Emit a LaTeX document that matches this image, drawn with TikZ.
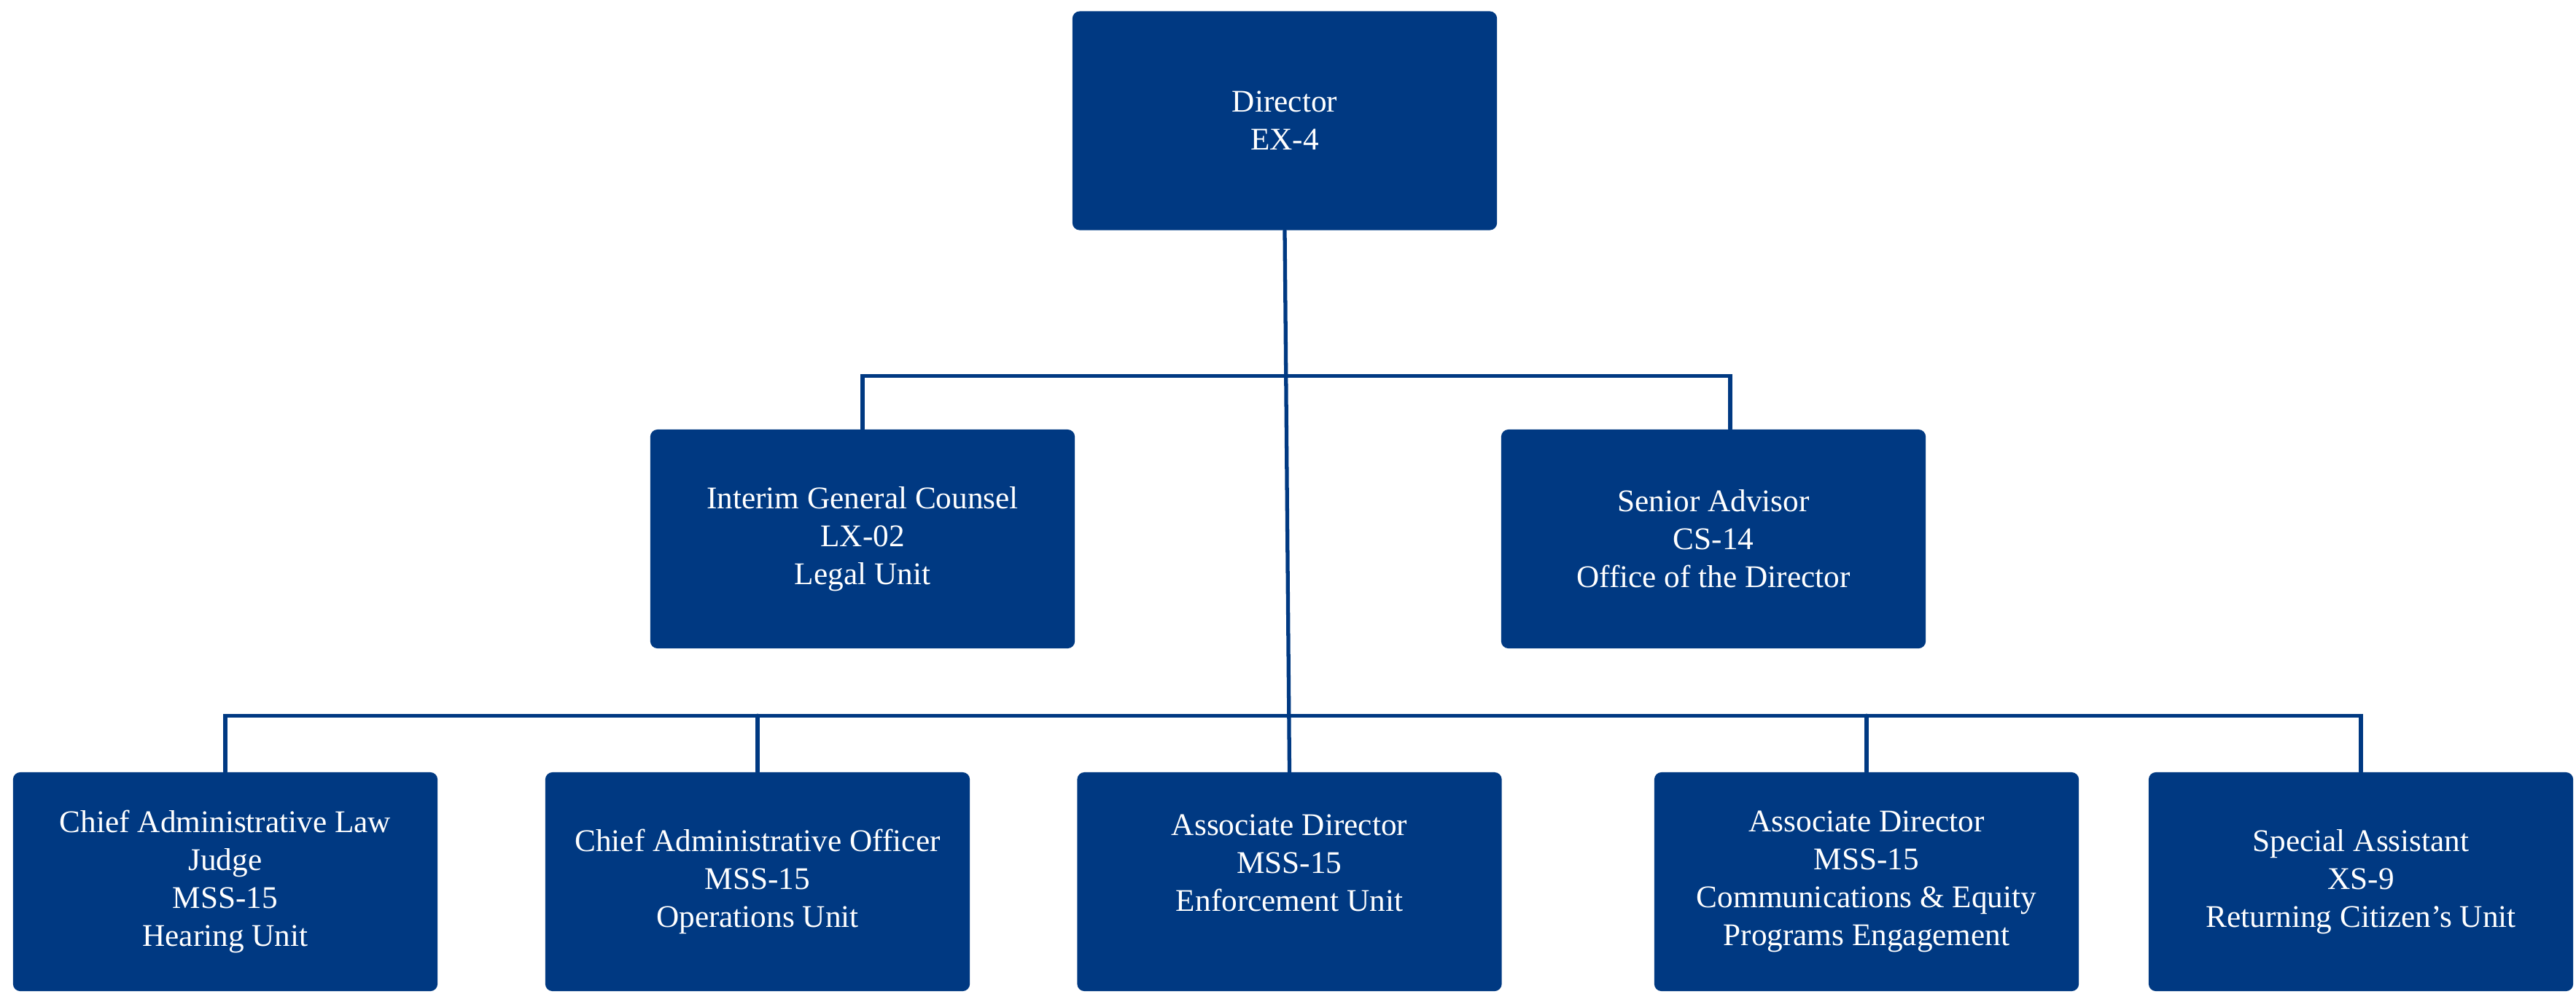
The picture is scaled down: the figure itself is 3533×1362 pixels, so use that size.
\documentclass[tikz,border=0pt]{standalone}
\usepackage{fontspec}
\setmainfont{Liberation Serif}
\definecolor{navy}{RGB}{0,57,130}

\begin{document}
\begin{tikzpicture}[x=0.01cm, y=-0.01cm,
    nodes = {font=\fontsize{12.3}{14.8}\selectfont, text=white, align=center},
    post/.style = {fill=navy, rounded corners=0.1cm, minimum width=5.82cm,
      minimum height=3cm, inner sep=0pt},
    link/.style = {draw=navy, line width=1.5pt, line cap=round}]
  \useasboundingbox (0,0) rectangle (3533,1362);
  % Top and middle rows
  \node[post] (director) at (1762,165.5) {Director\\EX-4};
  \node[post] (legal)  at (1183,739) {Interim General Counsel\\LX-02\\Legal Unit};
  \node[post] (senior) at (2350,739) {Senior Advisor\\CS-14\\Office of the Director};
  % Bottom row
  \foreach \x/\name/\txt in {
      309/hearing/{Chief Administrative Law\\Judge\\MSS-15\\Hearing Unit},
      1039/operations/{Chief Administrative Officer\\MSS-15\\Operations Unit},
      1768.5/enforce/{Associate Director\\MSS-15\\Enforcement Unit\\\mbox{}},
      2560/equity/{Associate Director\\MSS-15\\Communications \& Equity\\Programs Engagement},
      3238/returning/{Special Assistant\\XS-9\\Returning Citizen’s Unit}%
    } {
      \node[post] (\name) at (\x,1209) {\txt};
    }
  % Connectors
  \draw[link] (director.south) -- (enforce.north);
  \draw[link] (legal.north) -- ++(0,-73) -| ([xshift=0.23cm]senior.north);
  \draw[link] (hearing.north) -- ++(0,-77) -| (returning.north);
  \draw[link] (operations.north) -- ++(0,-77);
  \draw[link] (equity.north) -- ++(0,-77);
\end{tikzpicture}
\end{document}
